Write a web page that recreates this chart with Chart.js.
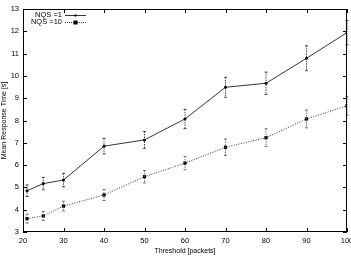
<!DOCTYPE html>
<html><head><meta charset="utf-8">
<script src="https://cdn.jsdelivr.net/npm/chart.js@4"></script>
<style>html,body{margin:0;padding:0;background:#fff}#wrap{width:351px;height:256px}</style>
</head><body><div id="wrap"><canvas id="c" width="351" height="256"></canvas></div>
<script>
const thresholds = [21, 25, 30, 40, 50, 60, 70, 80, 90, 100];
const nqs1 = [4.85, 5.17, 5.33, 6.85, 7.13, 8.07, 9.49, 9.67, 10.79, 11.94];
const nqs1Err = [0.26, 0.28, 0.3, 0.35, 0.38, 0.43, 0.45, 0.5, 0.56, 0.55];
const nqs10 = [3.6, 3.72, 4.16, 4.66, 5.48, 6.09, 6.8, 7.23, 8.07, 8.66];
const nqs10Err = [0.2, 0.2, 0.22, 0.25, 0.28, 0.3, 0.37, 0.4, 0.4, 0.42];
const xTicks = [20, 30, 40, 50, 60, 70, 80, 90, 100];
const yTicks = [3, 4, 5, 6, 7, 8, 9, 10, 11, 12, 13];
const seriesNames = ['NQS =1', 'NQS =10'];

const FONT = '"Liberation Sans", "DejaVu Sans", sans-serif';

const toPts = (xs, ys) => xs.map((x, i) => ({x, y: ys[i]}));

const errPlugin = {
  id: 'err',
  afterDatasetsDraw(chart) {
    const ctx = chart.ctx, xs = chart.scales.x, ys = chart.scales.y;
    const errs = [nqs1Err, nqs10Err];
    chart.data.datasets.forEach((ds, di) => {
      ctx.save();
      ctx.strokeStyle = di === 0 ? '#222' : '#555';
      ctx.lineWidth = 0.8;
      ds.data.forEach((p, i) => {
        const px = xs.getPixelForValue(p.x);
        const y1 = ys.getPixelForValue(p.y + errs[di][i]);
        const y2 = ys.getPixelForValue(p.y - errs[di][i]);
        ctx.setLineDash([1.5, 1]);
        ctx.beginPath(); ctx.moveTo(px, y1); ctx.lineTo(px, y2); ctx.stroke();
        ctx.setLineDash([]);
        ctx.beginPath();
        ctx.moveTo(px - 1.5, y1); ctx.lineTo(px + 1.5, y1);
        ctx.moveTo(px - 1.5, y2); ctx.lineTo(px + 1.5, y2);
        ctx.stroke();
      });
      ctx.restore();
    });
  }
};

const framePlugin = {
  id: 'frame',
  afterDraw(chart) {
    const ctx = chart.ctx, a = chart.chartArea, xs = chart.scales.x, ys = chart.scales.y;
    ctx.save();
    ctx.strokeStyle = '#000'; ctx.lineWidth = 1;
    ctx.strokeRect(a.left + 0.5, a.top + 0.5, a.right - a.left - 1, a.bottom - a.top - 1);
    ctx.beginPath();
    xTicks.forEach(v => {
      const px = Math.round(xs.getPixelForValue(v)) + 0.5;
      ctx.moveTo(px, a.bottom); ctx.lineTo(px, a.bottom - 4);
      ctx.moveTo(px, a.top); ctx.lineTo(px, a.top + 4);
    });
    yTicks.forEach(v => {
      const py = Math.round(ys.getPixelForValue(v)) + 0.5;
      ctx.moveTo(a.left, py); ctx.lineTo(a.left + 4, py);
      ctx.moveTo(a.right, py); ctx.lineTo(a.right - 4, py);
    });
    ctx.stroke();
    // legend
    ctx.font = '7.5px ' + FONT;
    ctx.fillStyle = '#000';
    ctx.textAlign = 'right'; ctx.textBaseline = 'middle';
    const lx = 62, ly1 = 15, ly2 = 22;
    ctx.fillText(seriesNames[0], lx, ly1);
    ctx.fillText(seriesNames[1], lx, ly2);
    ctx.lineWidth = 0.8;
    ctx.beginPath(); ctx.moveTo(65, ly1 + 0.5); ctx.lineTo(86, ly1 + 0.5); ctx.stroke();
    ctx.fillRect(74.5, ly1 - 0.5, 2, 2);
    ctx.setLineDash([1, 1]);
    ctx.beginPath(); ctx.moveTo(65, ly2 + 0.5); ctx.lineTo(86, ly2 + 0.5); ctx.stroke();
    ctx.setLineDash([]);
    ctx.fillRect(73.5, ly2 - 1.5, 4, 4);
    ctx.restore();
  }
};

new Chart(document.getElementById('c'), {
  type: 'scatter',
  data: {
    datasets: [
      { label: seriesNames[0], data: toPts(thresholds, nqs1), showLine: true,
        borderColor: '#000', borderWidth: 0.8, backgroundColor: '#000',
        pointStyle: 'circle', pointRadius: 1.5, pointBorderWidth: 0 },
      { label: seriesNames[1], data: toPts(thresholds, nqs10), showLine: true,
        borderColor: '#000', borderWidth: 0.8, borderDash: [1, 1.5], backgroundColor: '#000',
        pointStyle: 'rect', pointRadius: 2.3, pointBorderWidth: 0 }
    ]
  },
  options: {
    responsive: false, animation: false, devicePixelRatio: 1,
    layout: { padding: { top: 9, right: 4, left: 0, bottom: 0 } },
    plugins: { legend: { display: false }, tooltip: { enabled: false } },
    scales: {
      x: {
        type: 'linear', min: 20, max: 100,
        afterBuildTicks: s => { s.ticks = xTicks.map(v => ({value: v})); },
        afterFit: s => { s.height = 24; s.paddingRight = 0; s.paddingLeft = 0; },
        grid: { display: false, drawTicks: false },
        border: { display: false },
        ticks: { font: { size: 7.5, family: FONT }, color: '#000', padding: 4, maxRotation: 0 },
        title: { display: true, text: 'Threshold [packets]', font: { size: 7, family: FONT }, color: '#000', padding: { top: 0, bottom: 1 } }
      },
      y: {
        type: 'linear', min: 3, max: 13,
        afterBuildTicks: s => { s.ticks = yTicks.map(v => ({value: v})); },
        afterFit: s => { s.width = 23; s.paddingTop = 0; s.paddingBottom = 0; },
        grid: { display: false, drawTicks: false },
        border: { display: false },
        ticks: { font: { size: 7.5, family: FONT }, color: '#000', padding: 4 },
        title: { display: true, text: 'Mean Response Time [s]', font: { size: 7, family: FONT }, color: '#000', padding: { top: 0, bottom: 0 } }
      }
    }
  },
  plugins: [errPlugin, framePlugin]
});
</script></body></html>
